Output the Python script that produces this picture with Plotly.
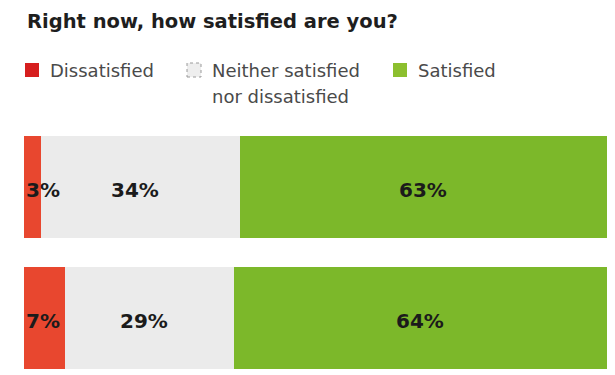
import plotly.graph_objects as go

# Survey responses: share of respondents per answer, one row per bar
groups = ["Group A", "Group B"]
dissatisfied = [3, 7]
neither = [34, 29]
satisfied = [63, 64]

series_names = ["Dissatisfied", "Neither satisfied nor dissatisfied", "Satisfied"]
legend_labels = ["Dissatisfied", "Neither satisfied", "nor dissatisfied", "Satisfied"]
title_text = "Right now, how satisfied are you?"

W, H = 615, 375
M_L, M_R, M_T, M_B = 24, 8, 136, 6
PLOT_W = W - M_L - M_R
PLOT_H = H - M_T - M_B

BAR_COLORS = ["#E8472F", "#EBEBEB", "#7CB82A"]
SWATCH_COLORS = ["#D61E1E", "#EEEEEE", "#8CBF2E"]
FONT = "DejaVu Sans"


def px_x(x):
    return (x - M_L) / PLOT_W


def px_y(y):
    return (H - M_B - y) / PLOT_H


fig = go.Figure()
for name, vals, color in zip(series_names, [dissatisfied, neither, satisfied], BAR_COLORS):
    fig.add_trace(go.Bar(
        y=groups, x=vals, name=name, orientation="h",
        marker=dict(color=color, line=dict(width=0)),
        width=0.78, showlegend=False, hoverinfo="skip",
    ))

annotations = []
label_font = dict(family=FONT, size=20, color="#1B1B1B")
for g, d, n, s in zip(groups, dissatisfied, neither, satisfied):
    # small first segment: label starts at the left edge of the bar
    annotations.append(dict(x=0, y=g, xref="x", yref="y", text=f"<b>{d}%</b>",
                            showarrow=False, xanchor="left", yanchor="middle",
                            xshift=0, yshift=-3, font=label_font))
    annotations.append(dict(x=d + n / 2 - 1.0, y=g, xref="x", yref="y", text=f"<b>{n}%</b>",
                            showarrow=False, xanchor="center", yanchor="middle",
                            yshift=-3, font=label_font))
    annotations.append(dict(x=d + n + s / 2, y=g, xref="x", yref="y", text=f"<b>{s}%</b>",
                            showarrow=False, xanchor="center", yanchor="middle",
                            yshift=-3, font=label_font))

# Title
annotations.append(dict(x=px_x(25), y=px_y(21), xref="paper", yref="paper",
                        text=f"<b>{title_text}</b>", showarrow=False,
                        xanchor="left", yanchor="middle",
                        font=dict(family=FONT, size=19.5, color="#1E1E1E")))

# Legend
legend_font = dict(family=FONT, size=18, color="#4A4A4A")
legend_items = [
    (25, 48, [legend_labels[0]]),
    (187, 210, [legend_labels[1], legend_labels[2]]),
    (393, 416, [legend_labels[3]]),
]
shapes = []
for i, (sx, tx, lines) in enumerate(legend_items):
    line_style = dict(width=1, color="#9A9A9A", dash="dot") if i == 1 else dict(width=0)
    shapes.append(dict(type="rect", xref="paper", yref="paper",
                       x0=px_x(sx), x1=px_x(sx + 14), y0=px_y(77), y1=px_y(63),
                       fillcolor=SWATCH_COLORS[i], line=line_style, layer="above"))
    for j, txt in enumerate(lines):
        annotations.append(dict(x=px_x(tx), y=px_y(70 + 27 * j), xref="paper", yref="paper",
                                text=txt, showarrow=False, xanchor="left", yanchor="middle",
                                font=legend_font))

fig.update_layout(
    barmode="stack",
    width=W, height=H,
    margin=dict(l=M_L, r=M_R, t=M_T, b=M_B, pad=0),
    paper_bgcolor="white", plot_bgcolor="white",
    xaxis=dict(range=[0, 100], visible=False, fixedrange=True),
    yaxis=dict(type="category", categoryorder="array", categoryarray=groups[::-1],
               range=[-0.39, 1.39], visible=False, fixedrange=True),
    annotations=annotations,
    shapes=shapes,
)

fig.write_html("out.html", config={"displayModeBar": False})
